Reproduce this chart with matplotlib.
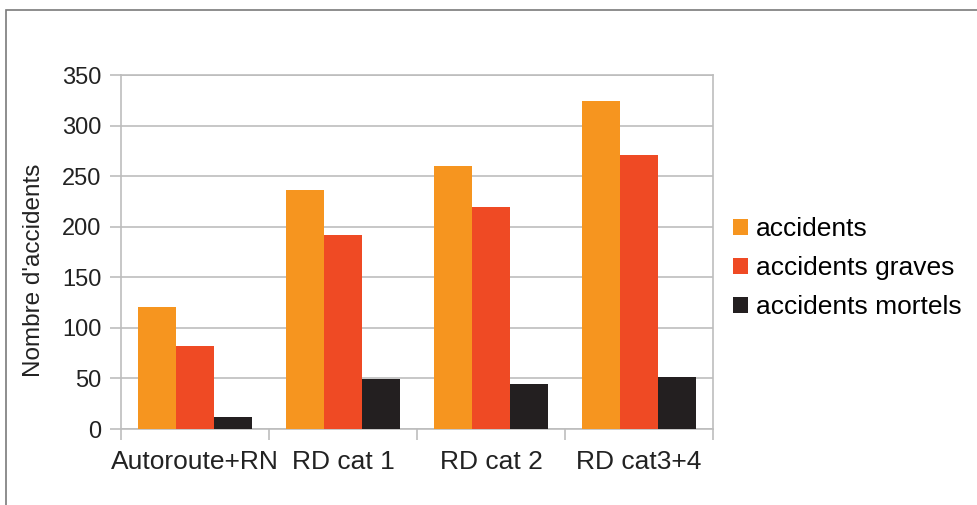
import matplotlib
matplotlib.use('Agg')
import matplotlib.pyplot as plt
from matplotlib.patches import Rectangle
import numpy as np

plt.rcParams['font.family'] = ['Liberation Sans', 'DejaVu Sans']

# Nombre d'accidents par type de route
categories = ['Autoroute+RN', 'RD cat 1', 'RD cat 2', 'RD cat3+4']
accidents = [121, 236, 260, 324]
accidents_graves = [82, 192, 219, 271]
accidents_mortels = [12, 49, 44, 51]

series = [
    ('accidents', accidents, '#F6951F'),
    ('accidents graves', accidents_graves, '#EF4A24'),
    ('accidents mortels', accidents_mortels, '#231F20'),
]

W, H = 977, 505
fig = plt.figure(figsize=(W / 100, H / 100), dpi=100)

# cadre gris autour du graphique
fig.patches.append(Rectangle((6 / W, -0.1), 1.2, 1.1 - 10 / H,
                             transform=fig.transFigure, fill=False,
                             edgecolor='#7a7a7a', linewidth=1.2))

ax = fig.add_axes([121 / W, (H - 429) / H, 592 / W, 354 / H])

x = np.arange(len(categories))
bw = 0.257
for i, (label, vals, color) in enumerate(series):
    ax.bar(x + (i - 1) * bw, vals, width=bw, color=color, label=label,
           zorder=3)

grid_c = '#bdbdbd'
ax.set_xlim(-0.5, len(categories) - 0.5)
ax.set_ylim(0, 350)
ax.set_yticks(range(0, 351, 50))
ax.yaxis.grid(True, color=grid_c, linewidth=1.2, zorder=0)
for s in ax.spines.values():
    s.set_color(grid_c)
    s.set_linewidth(1.2)

ax.set_xticks(x)
ax.set_xticklabels(categories, fontsize=19, color='#222222')
ax.set_xticks(np.arange(-0.5, len(categories)), minor=True)
ax.tick_params(axis='x', which='major', length=0, pad=15)
ax.tick_params(axis='x', which='minor', length=8, color=grid_c, width=1.2)
ax.tick_params(axis='y', length=8, color=grid_c, width=1.2, pad=6,
               labelsize=17, labelcolor='#222222')

fig.text(34 / W, (H - 270) / H, "Nombre d'accidents", rotation=90,
         ha='center', va='center', fontsize=17.5, color='#222222')

ax.legend(loc='center left', bbox_to_anchor=(722 / W, (H - 268) / H),
          bbox_transform=fig.transFigure, frameon=False, fontsize=19,
          handlelength=0.57, handleheight=0.57, handletextpad=0.3,
          labelspacing=0.57, borderaxespad=0)

fig.savefig('out.png', dpi=100)
